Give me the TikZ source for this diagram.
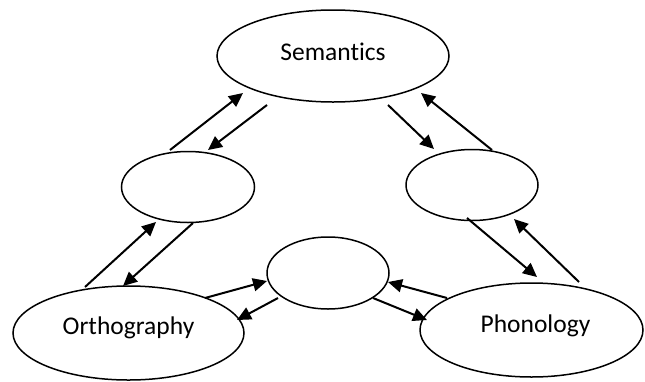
\documentclass[tikz,border=0pt]{standalone}
\usepackage{fontspec}
\setmainfont[Ligatures=NoCommon]{Carlito}
\usetikzlibrary{shapes.geometric,arrows.meta,calc}
\tikzset{
  oval/.style={draw=black,ellipse,line width=1.5pt,inner sep=0pt},
  lbl/.style={anchor=base,inner sep=0pt,font=\fontsize{25.5}{30}\selectfont},
  arr/.style={line width=2pt,-{Triangle[length=14pt,width=13pt]}}
}
\begin{document}
\begin{tikzpicture}[x=1pt,y=-1pt]
\useasboundingbox (0,0) rectangle (645,381);
\fill[white] (0,0) rectangle (645,381);
% nodes
\node[oval,minimum width=232pt,minimum height=92pt] (sem) at (333,56) {};
\node[oval,minimum width=133pt,minimum height=71pt] (lft) at (188,187) {};
\node[oval,minimum width=132pt,minimum height=71pt] (rgt) at (472,185) {};
\node[oval,minimum width=122pt,minimum height=72pt] (mid) at (328,273) {};
\node[oval,minimum width=231pt,minimum height=94pt] (orth) at (128.5,333) {};
\node[oval,minimum width=223pt,minimum height=94pt] (phon) at (531.5,330) {};
% labels
\node[lbl] (semt) at (333,60) {Semantics};
\node[lbl] (ortht) at (128.5,334) {Orthography};
\node[lbl] (phont) at (535.5,332) {Phonology};
% arrows
\draw[arr] ($(orth)+(-43.5,-46)$) -- ($(lft)+(-32,35)$);
\draw[arr] ($(lft)+(5,36)$) -- ($(orth)+(-5.5,-47)$);
\draw[arr] ($(lft)+(-18,-37)$) -- ($(sem)+(-90,37)$);
\draw[arr] ($(sem)+(-66,49)$) -- ($(lft)+(20,-37)$);
\draw[arr] ($(sem)+(55,49)$) -- ($(rgt)+(-38,-36)$);
\draw[arr] ($(rgt)+(20,-35)$) -- ($(sem)+(88,37)$);
\draw[arr] ($(rgt)+(-5,33)$) -- ($(phon)+(5.5,-53)$);
\draw[arr] ($(phon)+(47.5,-48)$) -- ($(rgt)+(42,34)$);
\draw[arr] ($(orth)+(76.5,-35)$) -- ($(mid)+(-61,8)$);
\draw[arr] ($(mid)+(-50,25)$) -- ($(orth)+(108.5,-13)$);
\draw[arr] ($(phon)+(-84.5,-32)$) -- ($(mid)+(60,9)$);
\draw[arr] ($(mid)+(45,25)$) -- ($(phon)+(-104.5,-10)$);
\end{tikzpicture}
\end{document}
